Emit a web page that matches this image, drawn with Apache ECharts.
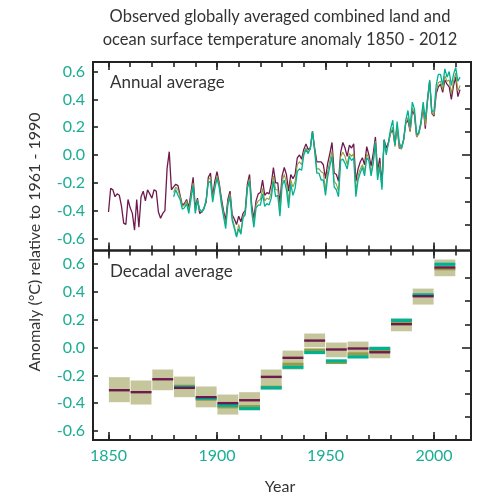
<!DOCTYPE html>
<html><head><meta charset="utf-8">
<script src="https://cdn.jsdelivr.net/npm/echarts@6/dist/echarts.min.js"></script>
<style>html,body{margin:0;padding:0;background:#fff}#c{width:483px;height:497px}</style>
</head><body><div id="c"></div>
<script>
// ---------------- data ----------------
const hadcrutStart = 1850;
const hadcrut = [
-0.41,-0.24,-0.25,-0.30,-0.28,-0.29,-0.37,-0.49,-0.50,-0.32,
-0.38,-0.42,-0.54,-0.32,-0.52,-0.30,-0.26,-0.33,-0.25,-0.28,
-0.31,-0.25,-0.26,-0.41,-0.455,-0.42,-0.40,-0.096,0.024,-0.25,
-0.23,-0.21,-0.22,-0.29,-0.36,-0.35,-0.32,-0.38,-0.27,-0.16,
-0.38,-0.31,-0.42,-0.41,-0.38,-0.34,-0.16,-0.13,-0.30,-0.19,
-0.12,-0.20,-0.31,-0.40,-0.47,-0.32,-0.26,-0.43,-0.46,-0.50,
-0.44,-0.48,-0.42,-0.40,-0.21,-0.14,-0.36,-0.46,-0.33,-0.28,
-0.27,-0.18,-0.29,-0.27,-0.28,-0.21,-0.09,-0.20,-0.20,-0.35,
-0.15,-0.09,-0.14,-0.26,-0.14,-0.17,-0.14,-0.02,0.00,-0.03,
0.04,0.08,0.04,0.05,0.17,0.05,-0.05,-0.05,-0.05,-0.07,
-0.17,-0.06,0.01,0.09,-0.13,-0.14,-0.19,0.02,0.09,0.05,
-0.01,0.07,0.05,0.08,-0.19,-0.10,-0.05,-0.02,-0.07,0.06,
0.00,-0.08,0.01,0.13,-0.12,-0.02,-0.21,0.11,0.05,0.09,
0.16,0.18,0.07,0.21,0.05,0.05,0.11,0.23,0.25,0.17,
0.32,0.29,0.13,0.16,0.23,0.35,0.19,0.40,0.53,0.30,
0.28,0.44,0.49,0.51,0.45,0.54,0.51,0.49,0.40,0.50,
0.56,0.42,0.47];
const otherStart = 1880;
const noaa = [
-0.27,-0.23,-0.25,-0.30,-0.37,-0.36,-0.33,-0.40,-0.29,-0.20,
-0.40,-0.32,-0.40,-0.41,-0.38,-0.33,-0.18,-0.16,-0.32,-0.22,
-0.15,-0.21,-0.33,-0.42,-0.50,-0.34,-0.28,-0.45,-0.51,-0.58,
-0.50,-0.56,-0.44,-0.42,-0.23,-0.17,-0.39,-0.49,-0.36,-0.33,
-0.32,-0.24,-0.33,-0.31,-0.32,-0.27,-0.15,-0.25,-0.25,-0.40,
-0.19,-0.14,-0.20,-0.33,-0.18,-0.23,-0.19,-0.07,-0.05,-0.07,
0.02,0.05,0.02,0.04,0.16,0.04,-0.10,-0.10,-0.12,-0.13,
-0.25,-0.12,-0.04,0.03,-0.19,-0.21,-0.26,-0.01,0.02,-0.01,
-0.07,0.01,-0.01,0.01,-0.26,-0.15,-0.10,-0.07,-0.12,0.01,
-0.03,-0.13,-0.04,0.10,-0.16,-0.06,-0.23,0.10,0.02,0.08,
0.16,0.20,0.06,0.21,0.06,0.04,0.10,0.23,0.27,0.17,
0.34,0.30,0.13,0.15,0.22,0.35,0.21,0.38,0.53,0.30,
0.29,0.46,0.52,0.53,0.47,0.57,0.53,0.54,0.44,0.53,
0.59,0.46,0.50];
const giss = [
-0.30,-0.25,-0.29,-0.32,-0.39,-0.38,-0.35,-0.42,-0.32,-0.22,
-0.42,-0.33,-0.39,-0.41,-0.39,-0.32,-0.20,-0.19,-0.34,-0.24,
-0.17,-0.23,-0.35,-0.44,-0.53,-0.36,-0.30,-0.47,-0.53,-0.59,
-0.53,-0.57,-0.45,-0.43,-0.24,-0.19,-0.41,-0.52,-0.38,-0.36,
-0.36,-0.28,-0.37,-0.35,-0.36,-0.31,-0.19,-0.30,-0.29,-0.44,
-0.22,-0.18,-0.25,-0.38,-0.21,-0.29,-0.24,-0.12,-0.10,-0.11,
0.00,0.04,0.01,0.05,0.17,0.03,-0.13,-0.13,-0.18,-0.18,
-0.29,-0.16,-0.08,-0.01,-0.23,-0.25,-0.30,-0.04,-0.03,-0.06,
-0.10,-0.01,-0.04,-0.02,-0.30,-0.18,-0.13,-0.09,-0.15,-0.02,
-0.04,-0.15,-0.06,0.09,-0.18,-0.08,-0.25,0.11,0.00,0.09,
0.19,0.25,0.07,0.24,0.09,0.05,0.11,0.25,0.32,0.20,
0.38,0.33,0.15,0.16,0.24,0.38,0.26,0.39,0.54,0.31,
0.32,0.50,0.58,0.58,0.50,0.62,0.56,0.60,0.50,0.58,
0.63,0.53,0.56];

const decades  = [1850,1860,1870,1880,1890,1900,1910,1920,1930,1940,1950,1960,1970,1980,1990,2000];
const decLow   = [-0.393,-0.410,-0.307,-0.357,-0.430,-0.482,-0.451,-0.302,-0.158,0.002,-0.070,-0.077,-0.077,0.117,0.309,0.513];
const decHigh  = [-0.213,-0.237,-0.158,-0.209,-0.280,-0.338,-0.321,-0.158,-0.022,0.101,0.036,0.043,0.007,0.209,0.424,0.633];
const decHad   = [-0.307,-0.321,-0.228,-0.290,-0.357,-0.400,-0.379,-0.211,-0.074,0.050,-0.014,-0.007,-0.034,0.168,0.369,0.576];
const decNoaa  = [null,null,null,-0.278,-0.372,-0.427,-0.424,-0.285,-0.120,-0.017,-0.108,-0.045,-0.022,0.185,0.375,0.566];
const decGiss  = [null,null,null,-0.285,-0.365,-0.415,-0.439,-0.290,-0.142,-0.036,-0.096,-0.067,-0.007,0.196,0.379,0.599];

const yTickLabels = [-0.6,-0.4,-0.2,0,0.2,0.4,0.6];
const xTickMinor = [1850,1860,1870,1880,1890,1900,1910,1920,1930,1940,1950,1960,1970,1980,1990,2000,2010];
const xTickMajor = [1850,1900,1950,2000];
const rightTicksF = [-0.9,-0.6,-0.3,0.3,0.6,0.9];   // °F scale on right side (no labels)

// ---------------- styles ----------------
const TEAL_TXT = '#1aae94';
const C_HAD = '#6e1a4f', C_NOAA = '#969c45', C_GISS = '#00b294', C_BOX = '#c6c69c', C_FRAME = '#222';
const FONT = 'Lato';
const XMIN = 1842.86, XMAX = 2017.05;
const Y0 = {min:-0.687, max:0.669};
const Y1 = {min:-0.665, max:0.698};

const chart = echarts.init(document.getElementById('c'));

function xAx(grid, pos, ticks, len, labels) {
  return {
    type:'value', gridIndex:grid, position:pos, min:XMIN, max:XMAX,
    axisLine:{show:false, onZero:false}, splitLine:{show:false},
    axisTick:{show:true, inside:true, length:len, customValues:ticks, lineStyle:{color:C_FRAME, width:1.6}},
    axisLabel:{show:labels, customValues:xTickMajor, formatter:v=>String(v), color:TEAL_TXT, fontSize:16, fontFamily:FONT, margin:8}
  };
}
function yLeft(grid, r) {
  return {
    type:'value', gridIndex:grid, position:'left', min:r.min, max:r.max,
    axisLine:{show:false, onZero:false}, splitLine:{show:false},
    axisTick:{show:true, inside:true, length:5, customValues:yTickLabels, lineStyle:{color:C_FRAME, width:1.6}},
    axisLabel:{show:true, customValues:yTickLabels, formatter:v=>v.toFixed(1), color:TEAL_TXT, fontSize:16, fontFamily:FONT, margin:8}
  };
}
function yRight(grid, r, ticks, len) {
  return {
    type:'value', gridIndex:grid, position:'right', min:r.min, max:r.max,
    axisLine:{show:false, onZero:false}, splitLine:{show:false},
    axisTick:{show:true, inside:true, length:len, customValues:ticks, lineStyle:{color:C_FRAME, width:1.6}},
    axisLabel:{show:false}
  };
}

const toC = f => f*5/9;

function annual(start, arr) { return arr.map((v,i)=>[start+i, v]); }
function lineSeries(name, data, color, w, z) {
  return {name, type:'line', xAxisIndex:0, yAxisIndex:0, data, symbol:'none', z,
    lineStyle:{color, width:w}, clip:true, animation:false};
}

function boxItem(params, api) {
  const d = api.value(0), lo = api.value(1), hi = api.value(2);
  const p0 = api.coord([d, hi]), p1 = api.coord([d+10, lo]);
  return {type:'rect', shape:{x:p0[0]+0.4, y:p0[1], width:p1[0]-p0[0]-0.8, height:p1[1]-p0[1]}, style:{fill:C_BOX}};
}
function bandRender(color, th) {
  return function(params, api) {
    const d = api.value(0), v = api.value(1);
    const p0 = api.coord([d, v]), p1 = api.coord([d+10, v]);
    return {type:'rect', shape:{x:p0[0]+0.4, y:p0[1]-th/2, width:p1[0]-p0[0]-0.8, height:th}, style:{fill:color}};
  };
}
function decData(vals) { return decades.map((d,i)=>[d, vals[i]]).filter(p=>p[1]!=null); }
function bandSeries(vals, color, th, z) {
  return {type:'custom', xAxisIndex:4, yAxisIndex:3, renderItem:bandRender(color, th), data:decData(vals), z, animation:false, encode:{x:0,y:1}};
}

const option = {
  animation:false,
  grid:[
    {left:93, right:12, top:62, height:188.5, show:true, borderColor:C_FRAME, borderWidth:2, backgroundColor:'transparent'},
    {left:93, right:12, top:250.5, height:189.5, show:true, borderColor:C_FRAME, borderWidth:2, backgroundColor:'transparent'}
  ],
  xAxis:[
    xAx(0,'bottom',xTickMinor,5,false), xAx(0,'bottom',xTickMajor,8,false),
    xAx(0,'top',xTickMinor,5,false), xAx(0,'top',xTickMajor,8,false),
    xAx(1,'bottom',xTickMinor,5,false), xAx(1,'bottom',xTickMajor,8,true),
    xAx(1,'top',xTickMinor,5,false), xAx(1,'top',xTickMajor,8,false)
  ],
  yAxis:[
    yLeft(0,Y0), yRight(0,Y0,rightTicksF.map(toC),6), yRight(0,Y0,[0],9),
    yLeft(1,Y1), yRight(1,Y1,rightTicksF.map(toC),6), yRight(1,Y1,[0],9)
  ],
  series:[
    lineSeries('HadCRUT4', annual(hadcrutStart, hadcrut), C_HAD, 1.3, 2),
    lineSeries('NOAA', annual(otherStart, noaa), C_NOAA, 1.1, 3),
    lineSeries('GISS', annual(otherStart, giss), C_GISS, 1.3, 4),
    {type:'custom', xAxisIndex:4, yAxisIndex:3, renderItem:boxItem,
      data:decades.map((d,i)=>[d, decLow[i], decHigh[i]]), z:1, animation:false, encode:{x:0,y:[1,2]}},
    bandSeries(decNoaa, C_NOAA, 3, 2),
    bandSeries(decGiss, C_GISS, 3.2, 3),
    bandSeries(decHad, C_HAD, 2.4, 4)
  ],
  graphic:[
    {type:'text', x:280, y:17, style:{text:'Observed globally averaged combined land and', textAlign:'center', textVerticalAlign:'middle', fontSize:16.5, fontFamily:FONT, fill:'#333'}},
    {type:'text', x:280, y:40, style:{text:'ocean surface temperature anomaly 1850 - 2012', textAlign:'center', textVerticalAlign:'middle', fontSize:16.5, fontFamily:FONT, fill:'#333'}},
    {type:'text', x:110, y:83, style:{text:'Annual average', textAlign:'left', textVerticalAlign:'middle', fontSize:17, fontFamily:FONT, fill:'#333'}},
    {type:'text', x:110, y:272, style:{text:'Decadal average', textAlign:'left', textVerticalAlign:'middle', fontSize:17, fontFamily:FONT, fill:'#333'}},
    {type:'text', x:35, y:242, rotation:Math.PI/2, style:{text:'Anomaly (°C) relative to 1961 - 1990', textAlign:'center', textVerticalAlign:'middle', fontSize:16, fontFamily:FONT, fill:'#333'}},
    {type:'text', x:280, y:487, style:{text:'Year', textAlign:'center', textVerticalAlign:'middle', fontSize:16, fontFamily:FONT, fill:'#333'}}
  ]
};
chart.setOption(option);
</script></body></html>
